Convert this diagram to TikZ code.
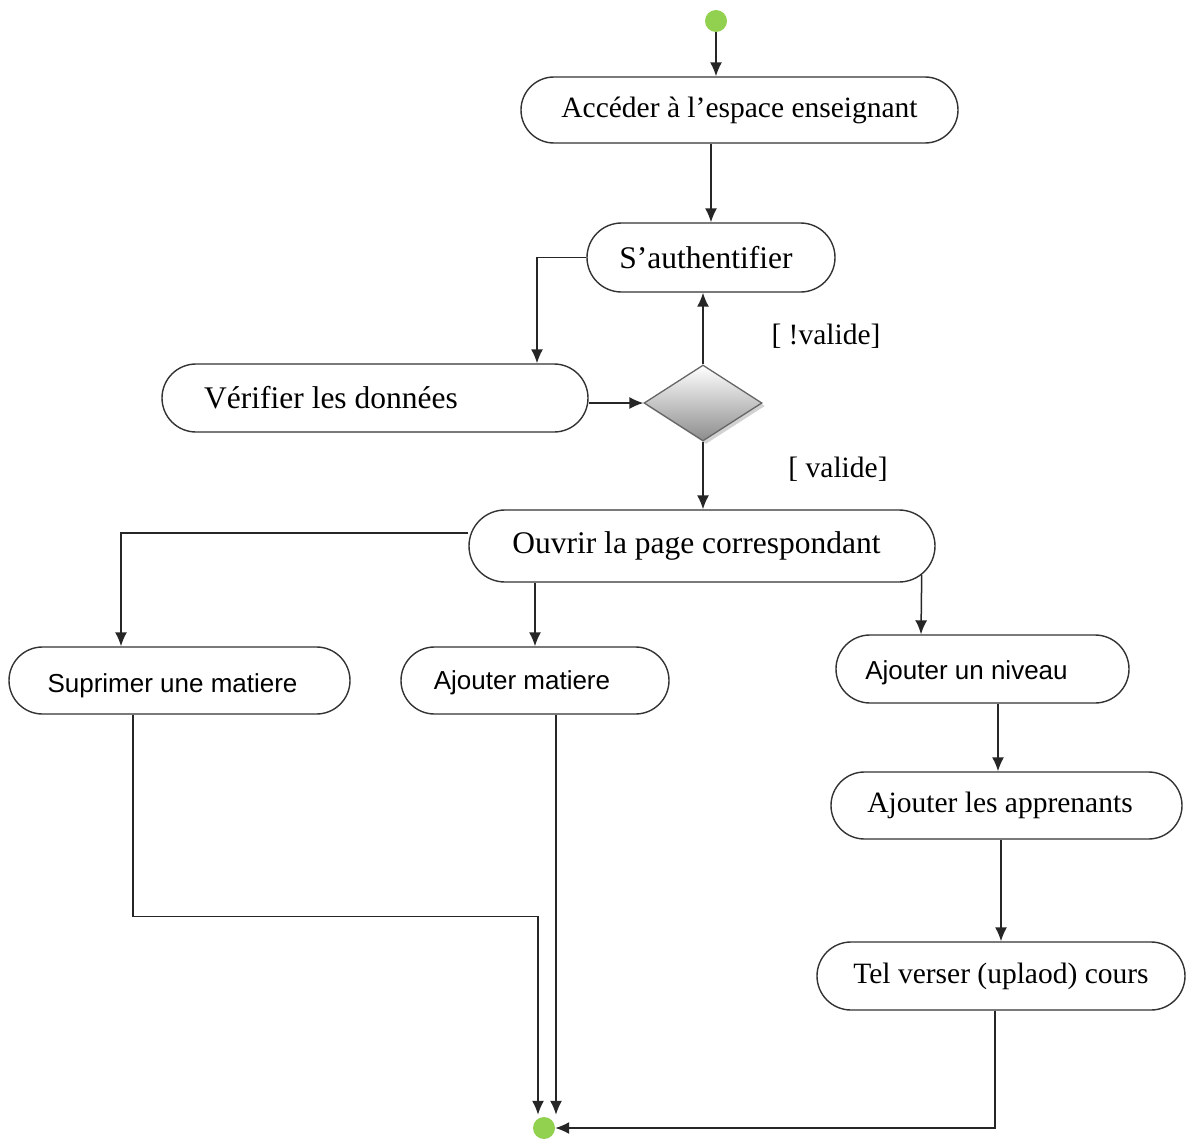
\documentclass[tikz,border=0pt]{standalone}
\usepackage{fontspec}
\setmainfont{Liberation Serif}
\newfontfamily\sansfam{Liberation Sans}
\usetikzlibrary{arrows.meta,shapes.misc,shapes.geometric,shadows,calc}
\definecolor{umlgreen}{RGB}{146,208,80}
% shift a label left inside its box by half of the given space
\newcommand{\txtleft}[2]{#2\hspace*{#1}}
% lower a label without changing the size its node sees
\newcommand{\txtdown}[2]{\raisebox{-#1}[\height][\depth]{#2}}

\begin{document}
\begin{tikzpicture}[x=1pt,y=-1pt,
  act/.style={draw=black!80, line width=1.4pt, rounded rectangle, inner sep=0pt,
    fill=white, font=\fontsize{29.5}{34}\selectfont},
  bigact/.style={act, font=\fontsize{31.5}{36}\selectfont},
  sansact/.style={act, font=\sansfam\fontsize{26}{30}\selectfont},
  flow/.style={draw=black!85, line width=1.5pt, -{Latex[length=14pt,width=12pt]}},
  dot/.style={circle, fill=umlgreen, inner sep=0pt, minimum size=22pt},
  guard/.style={font=\fontsize{29.5}{34}\selectfont}
]
\fill[white] (0,0) rectangle (1186,1140);
\useasboundingbox (0,0) rectangle (1186,1140);

% initial and final states
\node[dot] (start) at (716,21) {};
\node[dot] (end) at (544,1128) {};

% activities
\node[act, minimum width=437pt, minimum height=66pt] (acc) at (739.5,110) {Accéder à l’espace enseignant};
\node[bigact, minimum width=248pt, minimum height=69pt] (auth) at (711,257.5) {\txtleft{10pt}{S’authentifier}};
\node[bigact, minimum width=426pt, minimum height=68pt] (verif) at (375,398) {\txtleft{88pt}{Vérifier les données}};
\node[bigact, minimum width=466pt, minimum height=72pt] (open) at (702,546) {\txtleft{11pt}{Ouvrir la page correspondant}};
\node[sansact, minimum width=341pt, minimum height=67pt] (del) at (179.5,680.5) {\txtdown{5pt}{\txtleft{14pt}{Suprimer une matiere}}};
\node[sansact, minimum width=268pt, minimum height=67pt] (addm) at (535,680.5) {\txtdown{2pt}{\txtleft{26pt}{Ajouter matiere}}};
\node[sansact, minimum width=293pt, minimum height=68pt] (addn) at (982.5,669) {\txtdown{4pt}{\txtleft{32pt}{Ajouter un niveau}}};
\node[act, minimum width=351pt, minimum height=67pt] (adda) at (1006.5,805.5) {\txtleft{13pt}{Ajouter les apprenants}};
\node[act, minimum width=368pt, minimum height=68pt] (up) at (1001,976) {Tel verser (uplaod) cours};

% decision
\node[diamond, draw=black!60, line width=1.3pt, top color=white, bottom color=black!45,
  minimum width=118pt, minimum height=76pt, inner sep=0pt,
  drop shadow={shadow xshift=3pt, shadow yshift=-3pt, opacity=0.35}] (dec) at (703,403) {};

% guards
\node[guard] (gnv) at (826,336) {[ !valide]};
\node[guard] (gv) at (838,469) {[ valide]};

% transitions
\draw[flow] (start) -- (start |- acc.north);
\draw[flow] (acc.south -| auth.north) -- (auth.north);
\draw[flow] (auth.west) -| ($(verif.north)+(162,0)$);
\draw[flow] (verif.east |- dec.west) -- (dec.west);
\draw[flow] (dec.north) -- (dec.north |- auth.south);
\draw[flow] (dec.south) -- (dec.south |- open.north);
\draw[flow] ([yshift=13pt]open.west) -| ($(del.north)+(-58.5,0)$);
\draw[flow] (open.south -| addm.north) -- (addm.north);
\draw[flow] ($(open.east)+(-14,29)$) -- ($(addn.north)+(-61.5,0)$);
\draw[flow] ($(addn.south)+(15.5,0)$) -- ($(adda.north)+(-8.5,0)$);
\draw[flow] (adda.south -| up.north) -- (up.north);
\draw[flow] ($(up.south)+(-6,0)$) |- (end.east);
\draw[flow] ($(del.south)+(-46.5,0)$) -- ++(0,202) -| ($(end.north)+(-6,-2)$);
\draw[flow] ($(addm.south)+(21,0)$) -- ($(end.north)+(12,-2)$);
\end{tikzpicture}
\end{document}
